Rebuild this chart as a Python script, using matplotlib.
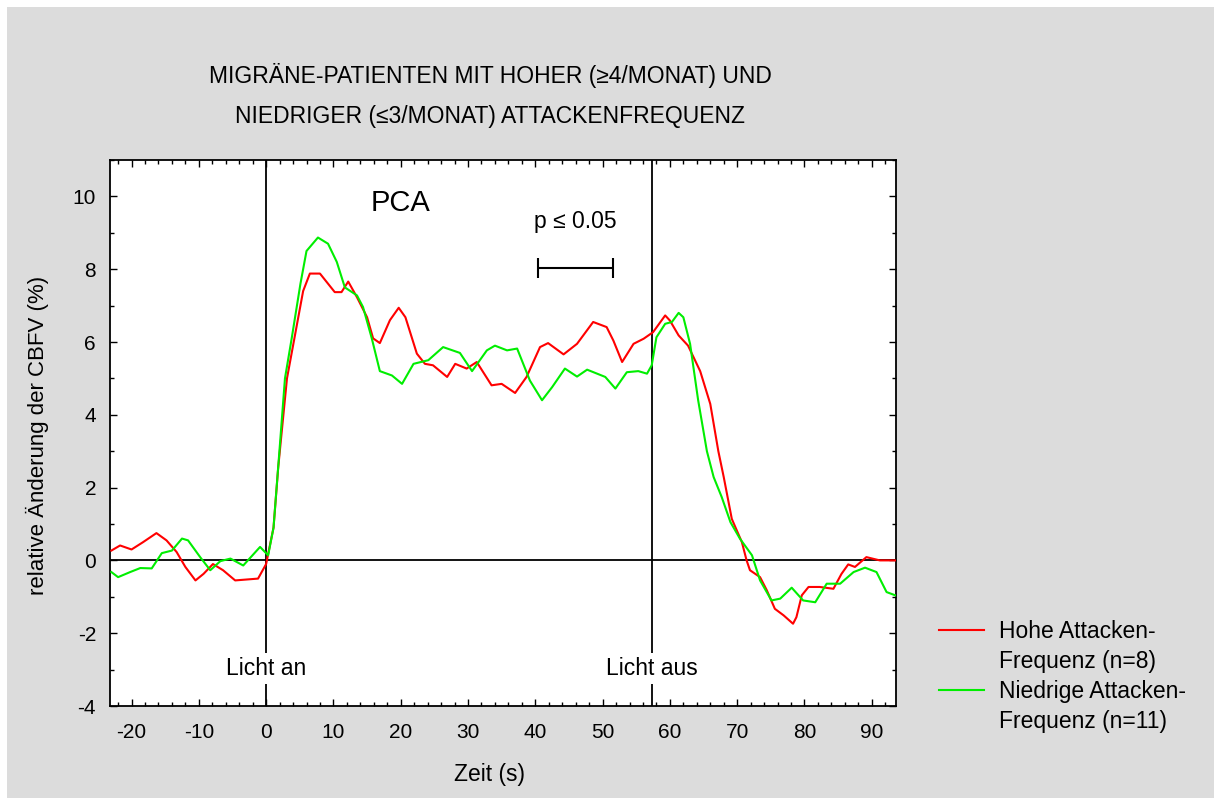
import matplotlib
matplotlib.use("Agg")
import matplotlib.pyplot as plt
from matplotlib.ticker import MultipleLocator
from matplotlib.lines import Line2D
from matplotlib.patches import Rectangle

plt.rcParams['font.family'] = ['Liberation Sans', 'DejaVu Sans']
plt.rcParams['axes.unicode_minus'] = False

# --- data ---
red_x = [-23, -21.7, -20, -18.3, -16.3, -14.8, -13.3, -12, -10.5, -9.3, -7.9, -6.4, -4.6, -1.2, 0,
         1.1, 1.8, 3.1, 4.6, 5.5, 6.5, 8.0, 10.2, 11.2, 12.2, 13.5, 15.0, 15.9, 16.9, 18.4, 19.7,
         20.7, 22.4, 23.6, 24.8, 26.9, 28.1, 29.8, 31.3, 33.5, 35.0, 37.0, 38.7, 40.7, 41.9, 44.2,
         46.2, 48.6, 50.6, 51.6, 52.9, 54.6, 56.1, 57.5, 59.3, 60.0, 61.3, 62.7, 64.5, 66.0, 67.2,
         68.0, 69.2, 70.7, 71.4, 71.9, 73.4, 74.4, 75.6, 76.9, 78.3, 78.8, 79.6, 80.6, 82.3, 84.3,
         85.5, 86.5, 87.5, 89.2, 91.2, 93.5]
red_y = [0.27, 0.41, 0.3, 0.5, 0.75, 0.55, 0.23, -0.18, -0.55, -0.37, -0.1, -0.27, -0.55, -0.5, -0.1,
         0.9, 2.56, 5.0, 6.5, 7.4, 7.88, 7.88, 7.37, 7.37, 7.66, 7.23, 6.68, 6.1, 5.97, 6.6, 6.94,
         6.68, 5.68, 5.4, 5.36, 5.04, 5.4, 5.27, 5.45, 4.81, 4.85, 4.6, 5.04, 5.86, 5.97, 5.66,
         5.95, 6.55, 6.41, 6.04, 5.45, 5.95, 6.09, 6.27, 6.73, 6.59, 6.18, 5.9, 5.2, 4.3, 3.0,
         2.29, 1.14, 0.5, 0.0, -0.27, -0.46, -0.82, -1.33, -1.51, -1.74, -1.56, -0.96, -0.73, -0.73, -0.78,
         -0.37, -0.11, -0.18, 0.09, 0.0, 0.0]

green_x = [-23, -22, -20.2, -18.7, -17, -15.5, -14, -12.5, -11.6, -9.8, -8.3, -6.8, -5.3, -3.4, -0.9, 0.3,
           1.1, 2.1, 2.8, 3.8, 5.1, 6.0, 7.7, 9.2, 10.5, 11.7, 13.5, 14.4, 15.7, 16.9, 18.7, 20.2,
           21.9, 24.1, 26.3, 28.8, 30.6, 32.8, 34.0, 35.8, 37.3, 39.2, 41.0, 42.5, 44.4, 46.2, 47.7,
           50.4, 51.9, 53.6, 55.3, 56.6, 57.3, 58.0, 59.3, 60.3, 61.3, 62.0, 63.0, 64.2, 65.5, 66.5,
           67.7, 69.0, 70.4, 72.2, 73.4, 75.1, 76.4, 78.1, 79.8, 81.6, 83.3, 85.3, 87.3, 89.0, 90.7,
           92.2, 93.5]
green_y = [-0.32, -0.46, -0.32, -0.21, -0.22, 0.2, 0.27, 0.6, 0.55, 0.09, -0.27, -0.02, 0.05, -0.14, 0.37, 0.14,
           0.9, 3.3, 5.0, 6.1, 7.6, 8.5, 8.87, 8.7, 8.2, 7.5, 7.28, 6.96, 6.1, 5.2, 5.08, 4.85,
           5.4, 5.5, 5.86, 5.7, 5.2, 5.77, 5.9, 5.77, 5.82, 4.94, 4.4, 4.76, 5.27, 5.05, 5.24,
           5.04, 4.72, 5.17, 5.2, 5.13, 5.36, 6.13, 6.5, 6.55, 6.8, 6.68, 5.95, 4.4, 3.0, 2.29,
           1.74, 1.05, 0.6, 0.14, -0.55, -1.1, -1.05, -0.75, -1.1, -1.15, -0.64, -0.64, -0.32, -0.2, -0.32,
           -0.87, -0.96]

light_on = 0
light_off = 57.3
sig_start, sig_end, sig_y = 40.4, 51.6, 8.02

xticks = list(range(-20, 91, 10))
yticks = list(range(-4, 11, 2))

title_lines = ["MIGRÄNE-PATIENTEN MIT HOHER (\u22654/MONAT) UND",
               "NIEDRIGER (\u22643/MONAT) ATTACKENFREQUENZ"]
legend_labels = ["Hohe Attacken-", "Frequenz (n=8)", "Niedrige Attacken-", "Frequenz (n=11)"]

RED = '#ff0000'
GREEN = '#00ee00'

# --- figure ---
bg = '#dcdcdc'
W, H = 1214, 798
fig = plt.figure(figsize=(W / 100, H / 100), dpi=100, facecolor='white')
fig.patches.append(Rectangle((7 / W, 0), 1 - 7 / W, 1 - 7 / H, transform=fig.transFigure,
                             facecolor=bg, edgecolor='none', zorder=-10))
ax = fig.add_axes([110 / W, 1 - 706 / H, (896 - 110) / W, (706 - 160) / H])
ax.set_facecolor('white')

ax.plot(red_x, red_y, color=RED, lw=1.5, zorder=3)
ax.plot(green_x, green_y, color=GREEN, lw=1.5, zorder=3)

ax.set_xlim(-23.2, 93.6)
ax.set_ylim(-4, 11)

ax.axhline(0, color='black', lw=1.3, zorder=2)
for xv in (light_on, light_off):
    ax.axvline(xv, color='black', lw=1.3, zorder=2)

ax.text(light_on, -2.97, "Licht an", ha='center', va='center', fontsize=16.5,
        bbox=dict(facecolor='white', edgecolor='none', pad=3), zorder=4)
ax.text(light_off, -2.97, "Licht aus", ha='center', va='center', fontsize=16.5,
        bbox=dict(facecolor='white', edgecolor='none', pad=3), zorder=4)

ax.text(19.9, 9.83, "PCA", ha='center', va='center', fontsize=21)
ax.text((sig_start + sig_end) / 2, 9.3, "p \u2264 0.05", ha='center', va='center', fontsize=16.5)
ax.errorbar([(sig_start + sig_end) / 2], [sig_y], xerr=[(sig_end - sig_start) / 2],
            fmt='none', ecolor='black', elinewidth=1.5, capsize=7, capthick=1.5)

ax.xaxis.set_major_locator(MultipleLocator(10))
ax.xaxis.set_minor_locator(MultipleLocator(2))
ax.yaxis.set_major_locator(MultipleLocator(2))
ax.yaxis.set_minor_locator(MultipleLocator(1))
ax.set_xticks(xticks)
ax.set_yticks(yticks)
ax.tick_params(which='both', direction='in', top=True, right=True, labelsize=15)
ax.tick_params(axis='x', pad=12)
ax.tick_params(axis='y', pad=10)
ax.tick_params(which='major', length=5, width=1)
ax.tick_params(which='minor', length=3, width=1)
for s in ax.spines.values():
    s.set_linewidth(1.3)

ax.set_xlabel("Zeit (s)", fontsize=16.5)
ax.xaxis.set_label_coords((489 - 110) / 786, -(775 - 706) / 546)
ax.xaxis.label.set_va('center')
ax.set_ylabel("relative Änderung der CBFV (%)", fontsize=16)
ax.yaxis.set_label_coords(-(110 - 37) / 786, (706 - 435) / 546)
ax.yaxis.label.set_va('center')

fig.text(490 / W, 1 - 75 / H, title_lines[0], ha='center', va='center', fontsize=16.5)
fig.text(490 / W, 1 - 117 / H, title_lines[1], ha='center', va='center', fontsize=16.5)

blank = Line2D([], [], color='none')
handles = [Line2D([], [], color=RED, lw=1.5), blank, Line2D([], [], color=GREEN, lw=1.5), blank]
fig.legend(handles, legend_labels, loc='upper left',
           bbox_to_anchor=(928 / W, 1 - 609 / H), frameon=False, fontsize=16.5,
           handlelength=1.95, handletextpad=0.65, labelspacing=0.3, borderpad=0)

fig.savefig("out.png", dpi=100, facecolor='white')
